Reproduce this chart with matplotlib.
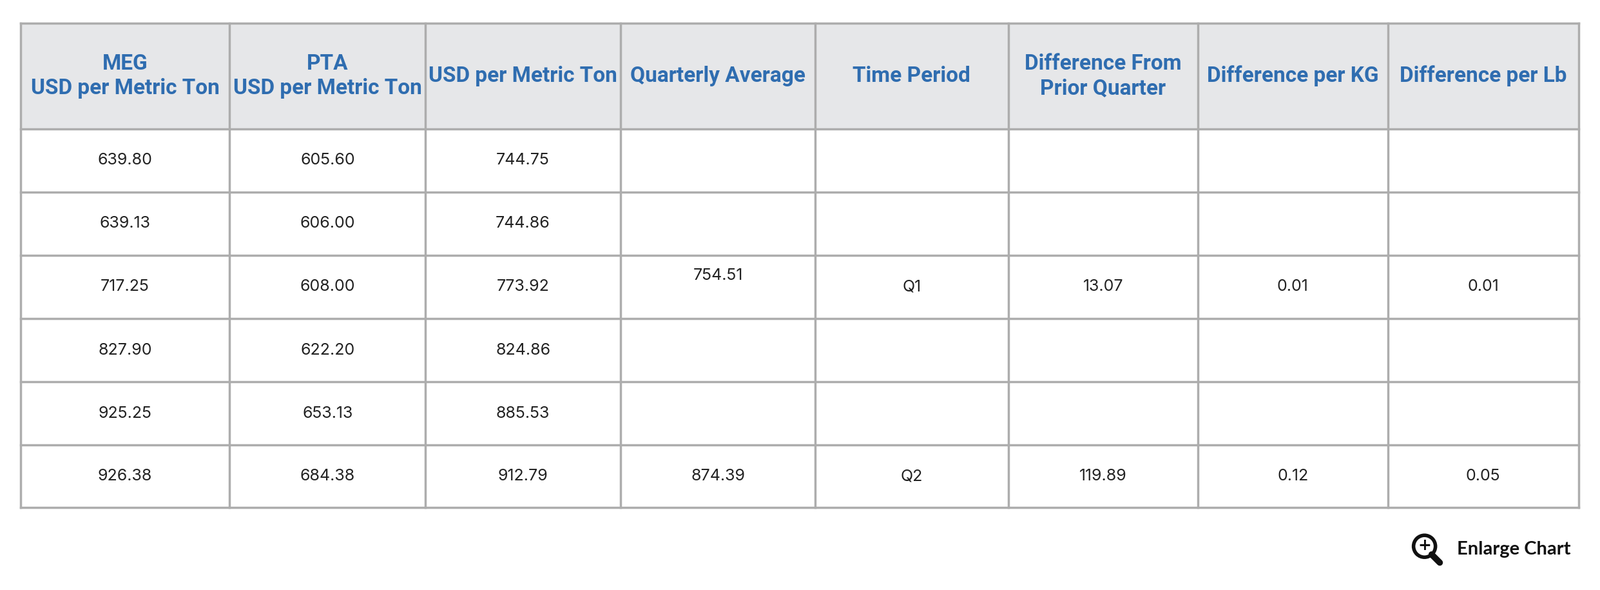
import matplotlib
matplotlib.use("Agg")
import matplotlib.pyplot as plt
from matplotlib.patches import Rectangle
from matplotlib import font_manager

headers = ["MEG\nUSD per Metric Ton", "PTA\nUSD per Metric Ton", "USD per Metric Ton",
           "Quarterly Average", "Time Period", "Difference From\nPrior Quarter",
           "Difference per KG", "Difference per Lb"]
meg = ["639.80", "639.13", "717.25", "827.90", "925.25", "926.38"]
pta = ["605.60", "606.00", "608.00", "622.20", "653.13", "684.38"]
usd = ["744.75", "744.86", "773.92", "824.86", "885.53", "912.79"]
quarterly = ["", "", "754.51", "", "", "874.39"]
period = ["", "", "Q1", "", "", "Q2"]
diff_q = ["", "", "13.07", "", "", "119.89"]
diff_kg = ["", "", "0.01", "", "", "0.12"]
diff_lb = ["", "", "0.01", "", "", "0.05"]
columns = [meg, pta, usd, quarterly, period, diff_q, diff_kg, diff_lb]

S = 2483 / 1568
col_edges = [e * S for e in [20, 225, 417, 608, 799, 988, 1174, 1360, 1547]]
row_edges = [e * S for e in [23, 126, 188, 250, 312, 374, 436, 497]]

names = {f.name for f in font_manager.fontManager.ttflist}
head_font = "Liberation Sans Narrow" if "Liberation Sans Narrow" in names else "Roboto"
body_font = "Inter" if "Inter" in names else "DejaVu Sans"

border = "#adadad"
head_bg = "#e6e7e9"
head_fg = "#2f6db0"

fig = plt.figure(figsize=(24.83, 9.15), dpi=100)
ax = fig.add_axes([0, 0, 1, 1])
ax.set_xlim(0, 2483)
ax.set_ylim(915, 0)
ax.axis("off")

ax.add_patch(Rectangle((col_edges[0], row_edges[0]), col_edges[-1] - col_edges[0],
                       row_edges[1] - row_edges[0], facecolor=head_bg, edgecolor="none"))
for x in col_edges:
    ax.plot([x, x], [row_edges[0], row_edges[-1]], color=border, lw=2.5, solid_capstyle="projecting")
for y in row_edges:
    ax.plot([col_edges[0], col_edges[-1]], [y, y], color=border, lw=2.5, solid_capstyle="projecting")

for i, h in enumerate(headers):
    cx = (col_edges[i] + col_edges[i + 1]) / 2
    cy = (row_edges[0] + row_edges[1]) / 2
    ax.text(cx, cy, h, ha="center", va="center", fontsize=24, fontweight="bold",
            color=head_fg, family=head_font, linespacing=1.25)

for i, col in enumerate(columns):
    cx = (col_edges[i] + col_edges[i + 1]) / 2
    for r, v in enumerate(col):
        cy = (row_edges[r + 1] + row_edges[r + 2]) / 2
        if i == 3 and r == 2:
            cy -= 17  # this value sits a little high in the reference
        ax.text(cx, cy, v, ha="center", va="center", fontsize=18, color="#222222", family=body_font)

# "Enlarge Chart" link
ax.text(1539 * S, 538 * S, "Enlarge Chart", ha="right", va="center", fontsize=21,
        fontweight="bold", color="#111111", family="Lato")
ax.add_patch(plt.Circle((1396 * S, 535 * S), 17, fill=False, lw=4, color="#111111"))
ax.plot([1403 * S, 1411 * S], [543 * S, 551 * S], color="#111111", lw=7, solid_capstyle="round")
ax.text(1396 * S, 534 * S, "+", ha="center", va="center", fontsize=18, fontweight="bold", color="#111111")

fig.savefig("out.png", dpi=100, facecolor="white")
